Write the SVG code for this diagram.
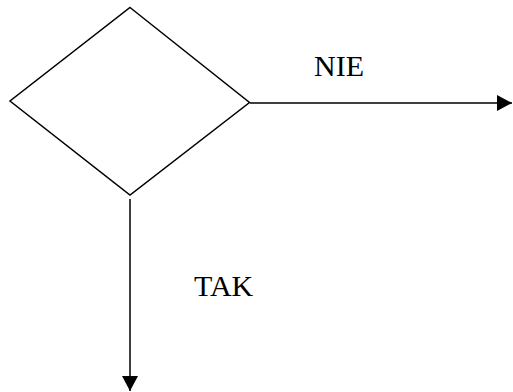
<svg xmlns="http://www.w3.org/2000/svg" width="513" height="392" viewBox="0 0 513 392">
<style>
.shape{fill:#fff;stroke:#000;stroke-width:1.5}
.conn{fill:none;stroke:#000;stroke-width:1.5}
.lbl{font-family:"Liberation Serif",serif;font-size:30px;fill:#000}
</style>
<defs>
<marker id="ah" markerUnits="userSpaceOnUse" markerWidth="16" markerHeight="16" viewBox="0 0 16 16" refX="15" refY="8" orient="auto">
<path d="M0,0 L15,8 L0,16 Z" fill="#000"/>
</marker>
</defs>
<rect width="513" height="392" fill="#fff"/>
<g id="decision">
<polygon class="shape" points="130,7.5 249.5,102.5 130,195 10,101"/>
</g>
<g id="connectors">
<line class="conn" x1="250" y1="103" x2="512" y2="103" marker-end="url(#ah)"/>
<line class="conn" x1="130" y1="199" x2="130" y2="391" marker-end="url(#ah)"/>
</g>
<g id="labels">
<text class="lbl" x="314" y="76">NIE</text>
<text class="lbl" x="194" y="296">TAK</text>
</g>
</svg>
